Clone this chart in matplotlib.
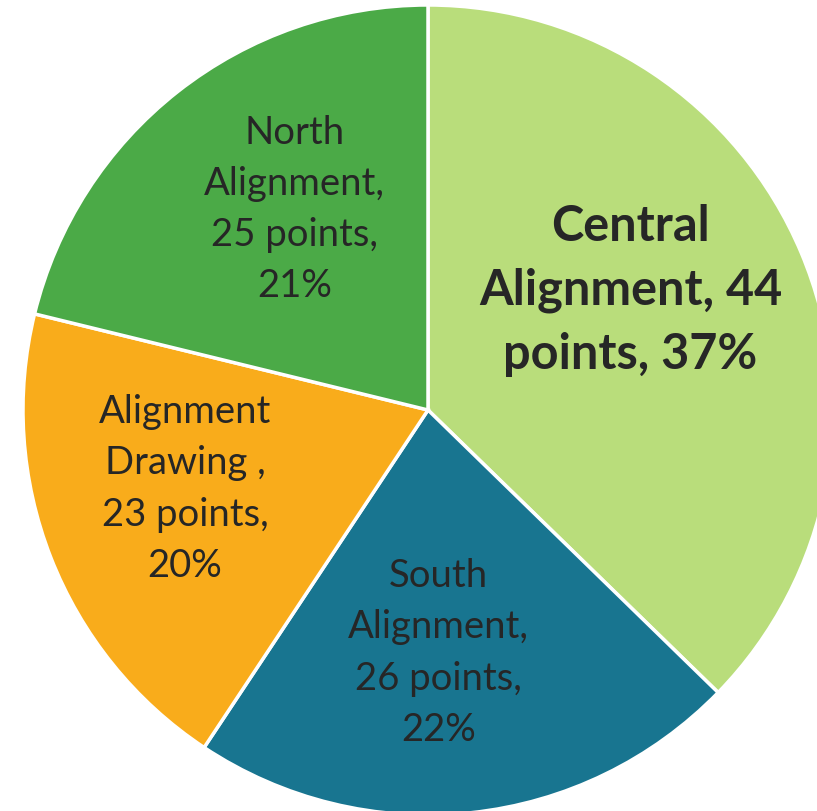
import matplotlib
matplotlib.use("Agg")
from matplotlib import pyplot as plt

labels = ["Central\nAlignment, 44\npoints, 37%",
          "South\nAlignment,\n26 points,\n22%",
          "Alignment\nDrawing ,\n23 points,\n20%",
          "North\nAlignment,\n25 points,\n21%"]
values = [44, 26, 23, 25]
colors = ["#B9DD7B", "#187590", "#F9AC1B", "#4BAA47"]

# label centres in units of pie radius
label_pos = [(0.50, 0.295), (0.025, -0.60), (-0.60, -0.195), (-0.33, 0.495)]

plt.rcParams["font.family"] = ["Lato", "DejaVu Sans"]

fig = plt.figure(figsize=(8.17, 8.11), dpi=100)
ax = fig.add_axes([23 / 817, -4 / 811, 810 / 817, 810 / 811])

wedges, texts = ax.pie(values, labels=labels, colors=colors, startangle=90,
                       counterclock=False, radius=1.0,
                       wedgeprops=dict(edgecolor="white", linewidth=2.5),
                       labeldistance=0.5)

for i, t in enumerate(texts):
    t.set_position(label_pos[i])
    t.set_ha("center")
    t.set_va("center")
    t.set_color("#262626")
    t.set_multialignment("center")
    if i == 0:
        t.set_fontsize(35)
        t.set_fontweight("bold")
        t.set_linespacing(1.5)
    else:
        t.set_fontsize(27.5)
        t.set_linespacing(1.52)

ax.set_xlim(-1, 1)
ax.set_ylim(-1, 1)
ax.set_aspect("equal")
ax.axis("off")

fig.savefig("out.png", dpi=100)
